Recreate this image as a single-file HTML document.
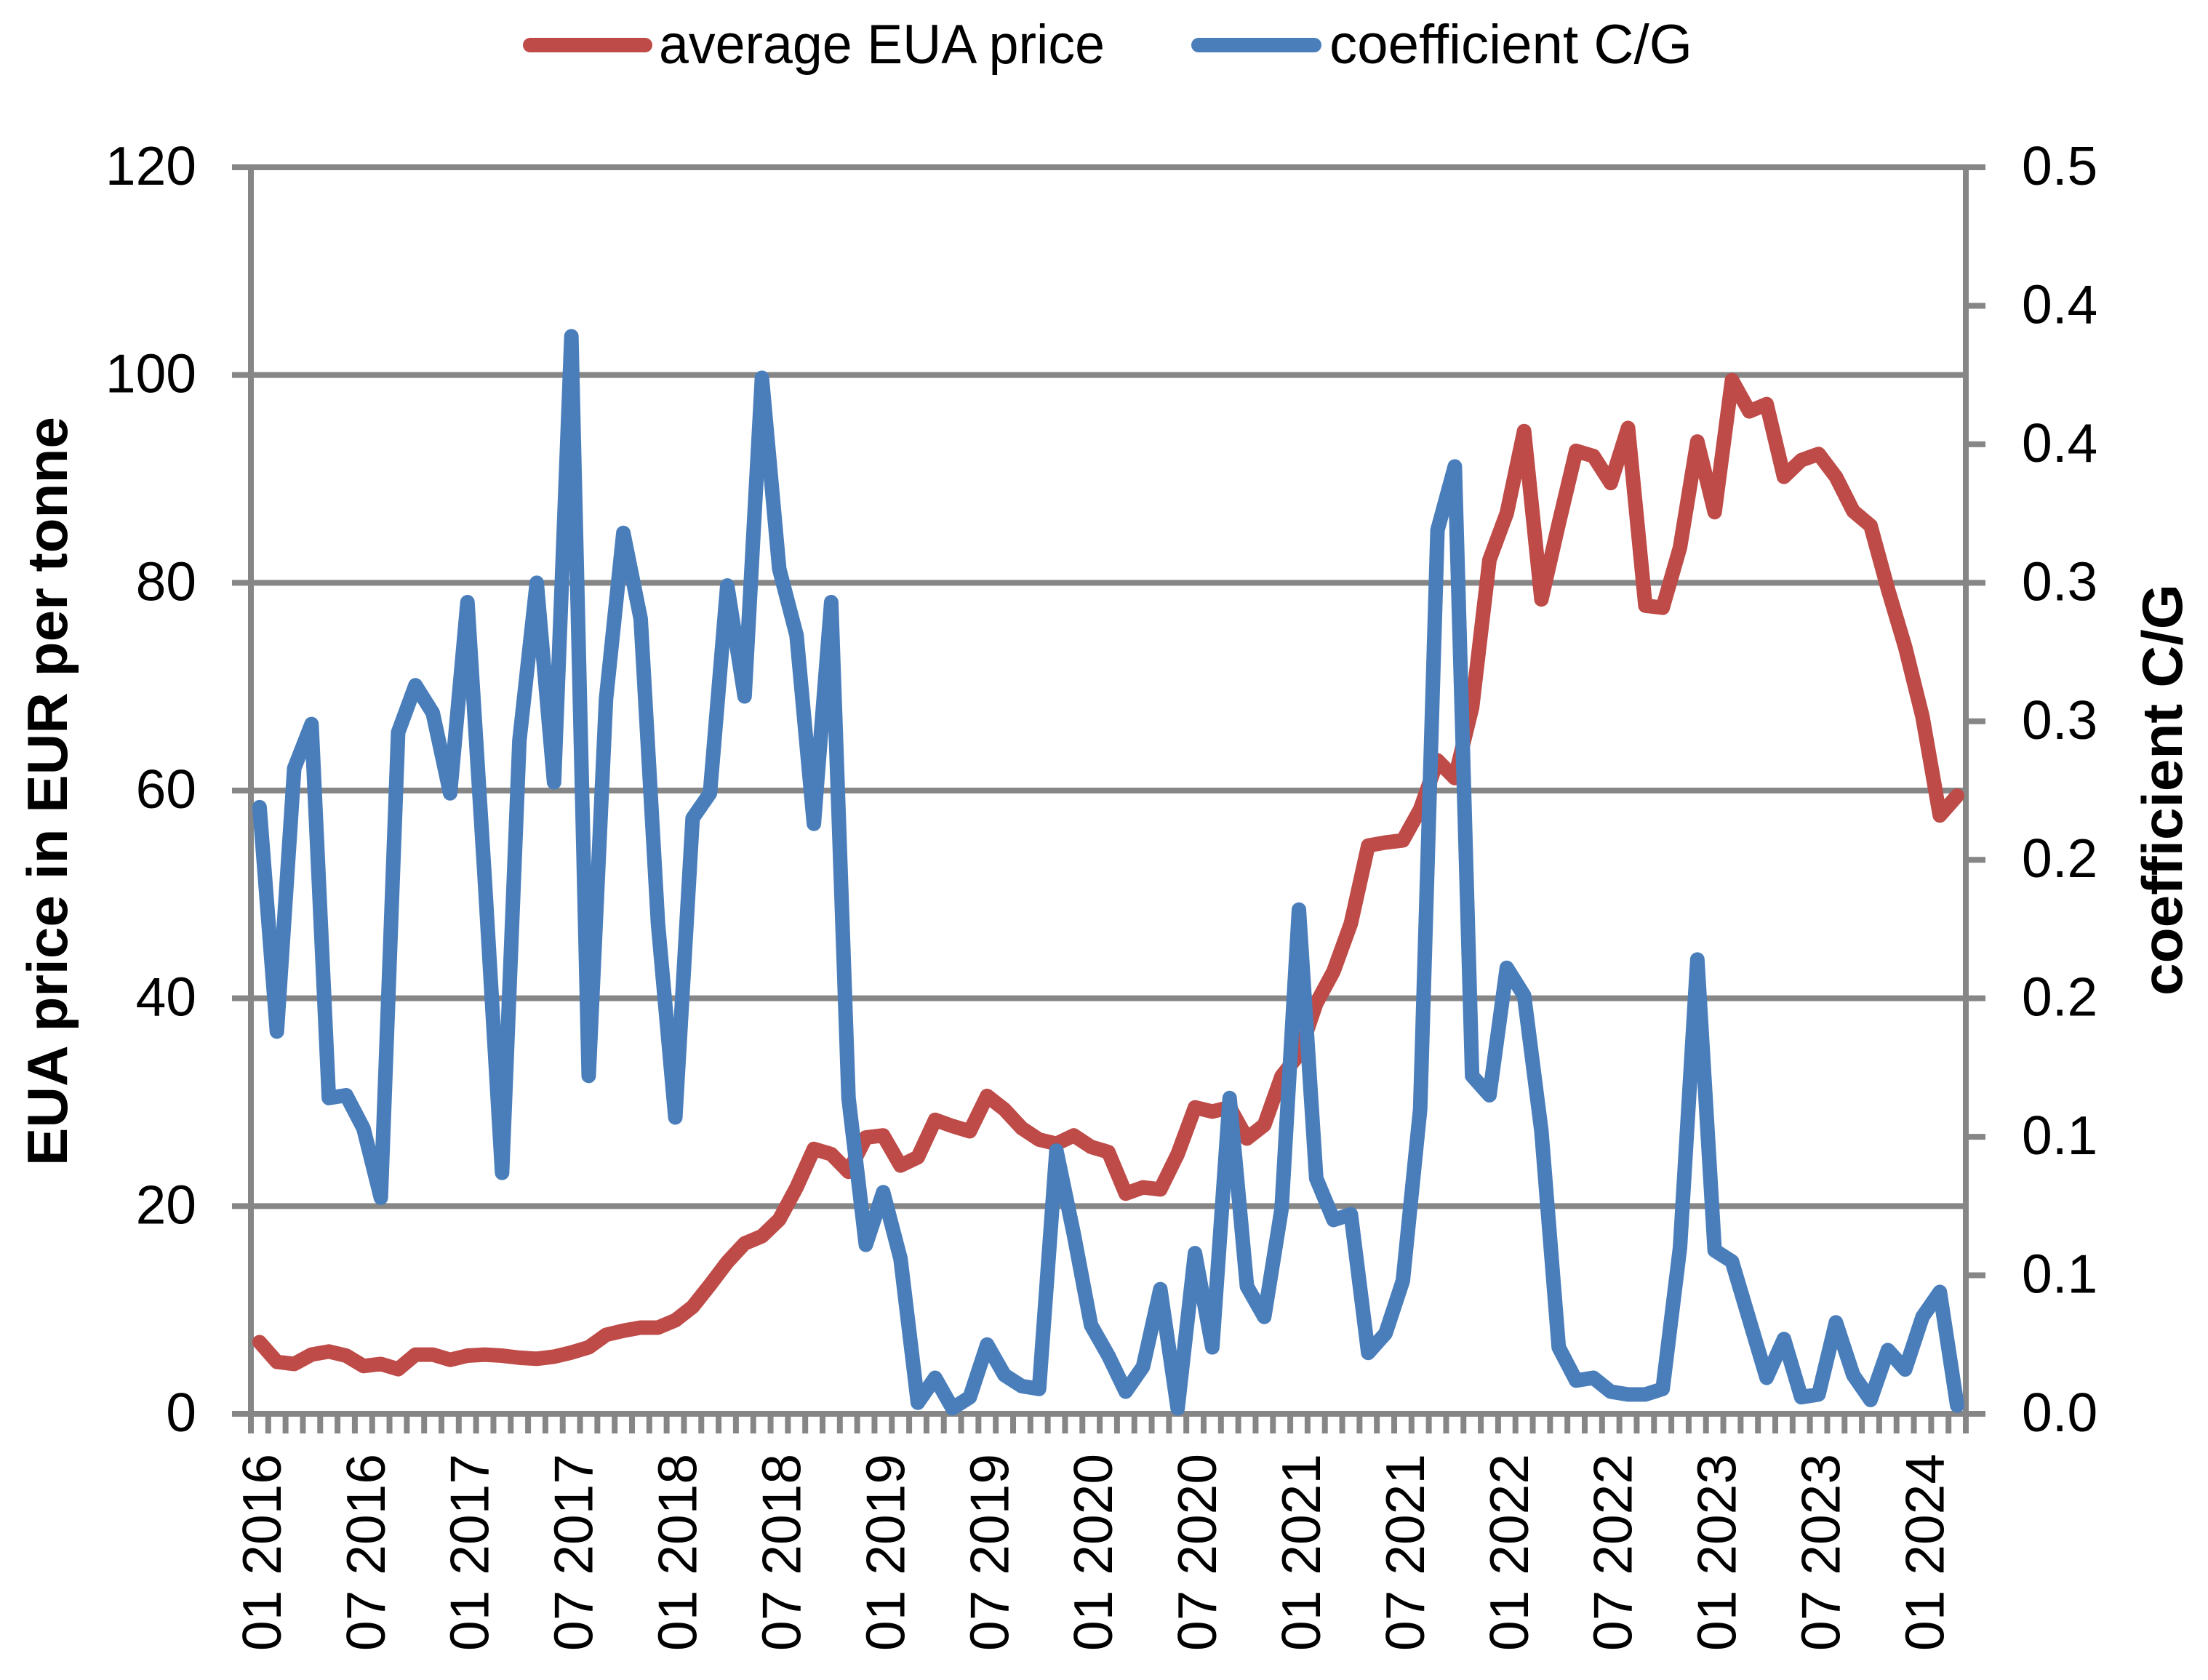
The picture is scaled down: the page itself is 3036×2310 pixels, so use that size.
<!DOCTYPE html>
<html lang="en">
<head>
<meta charset="utf-8">
<title>EUA price and coefficient C/G</title>
<style>
  html, body { margin: 0; padding: 0; background: #ffffff; }
  svg { display: block; }
  text { font-family: "Liberation Sans", sans-serif; fill: #000000; }
</style>
</head>
<body>
<svg id="chart" xmlns="http://www.w3.org/2000/svg" width="3036" height="2310" viewBox="0 0 3036 2310">
  <rect x="0" y="0" width="3036" height="2310" fill="#ffffff"/>
  <g id="grid"></g>
  <g id="axes"></g>
  <g id="labels"></g>
  <g id="series"></g>

  <g>
    <g>
      <line x1="729" y1="62" x2="887" y2="62" stroke="#BE4B48" stroke-width="20" stroke-linecap="round"/>
      <text x="906" y="87" font-size="76" textLength="613" lengthAdjust="spacingAndGlyphs">average EUA price</text>
    </g>
    <g>
      <line x1="1648" y1="62" x2="1807" y2="62" stroke="#4A7EBB" stroke-width="20" stroke-linecap="round"/>
      <text x="1828" y="87" font-size="76" textLength="499" lengthAdjust="spacingAndGlyphs">coefficient C/G</text>
    </g>
  </g>

  <text transform="translate(92 1603) rotate(-90)" font-size="78" font-weight="bold" textLength="1030" lengthAdjust="spacingAndGlyphs">EUA price in EUR per tonne</text>
  <text transform="translate(3000 1369) rotate(-90)" font-size="78" font-weight="bold" textLength="566" lengthAdjust="spacingAndGlyphs">coefficient C/G</text>
</svg>

<script>
const categories = [
  '01 2016','02 2016','03 2016','04 2016','05 2016','06 2016','07 2016','08 2016','09 2016','10 2016','11 2016','12 2016',
  '01 2017','02 2017','03 2017','04 2017','05 2017','06 2017','07 2017','08 2017','09 2017','10 2017','11 2017','12 2017',
  '01 2018','02 2018','03 2018','04 2018','05 2018','06 2018','07 2018','08 2018','09 2018','10 2018','11 2018','12 2018',
  '01 2019','02 2019','03 2019','04 2019','05 2019','06 2019','07 2019','08 2019','09 2019','10 2019','11 2019','12 2019',
  '01 2020','02 2020','03 2020','04 2020','05 2020','06 2020','07 2020','08 2020','09 2020','10 2020','11 2020','12 2020',
  '01 2021','02 2021','03 2021','04 2021','05 2021','06 2021','07 2021','08 2021','09 2021','10 2021','11 2021','12 2021',
  '01 2022','02 2022','03 2022','04 2022','05 2022','06 2022','07 2022','08 2022','09 2022','10 2022','11 2022','12 2022',
  '01 2023','02 2023','03 2023','04 2023','05 2023','06 2023','07 2023','08 2023','09 2023','10 2023','11 2023','12 2023',
  '01 2024','02 2024','03 2024'
];
const euaPrice = [
  6.9,5.0,4.8,5.7,6.0,5.6,4.6,4.8,4.3,5.7,5.7,5.2,
  5.6,5.7,5.6,5.4,5.3,5.5,5.9,6.4,7.6,8.0,8.3,8.3,
  9.0,10.3,12.4,14.6,16.4,17.1,18.7,21.8,25.5,25.0,23.3,26.6,
  26.8,23.9,24.7,28.3,27.7,27.2,30.6,29.3,27.5,26.4,26.0,26.8,
  25.7,25.2,21.2,21.8,21.6,25.0,29.5,29.1,29.5,26.5,27.8,32.5,
  34.6,39.5,42.6,47.2,54.7,55.0,55.2,58.2,62.9,61.2,68.0,82.2,
  86.7,94.6,78.4,85.7,92.7,92.2,89.6,94.9,77.8,77.6,83.4,93.6,
  86.8,99.5,96.5,97.2,90.2,91.8,92.4,90.2,86.9,85.5,79.4,73.8,
  67.1,57.6,59.5
];
const coefficientCG = [
  0.219,0.138,0.233,0.249,0.114,0.115,0.103,0.078,0.246,0.263,0.253,0.224,
  0.293,0.193,0.087,0.243,0.300,0.228,0.389,0.122,0.258,0.318,0.287,0.177,
  0.107,0.215,0.224,0.299,0.259,0.374,0.305,0.281,0.213,0.293,0.114,0.061,
  0.080,0.056,0.004,0.013,0.002,0.006,0.025,0.014,0.010,0.009,0.095,0.065,
  0.032,0.021,0.008,0.017,0.045,0.002,0.058,0.024,0.114,0.046,0.035,0.074,
  0.182,0.085,0.070,0.072,0.022,0.029,0.048,0.110,0.319,0.342,0.122,0.115,
  0.161,0.151,0.102,0.024,0.012,0.013,0.008,0.007,0.007,0.009,0.060,0.164,
  0.059,0.055,0.034,0.013,0.027,0.006,0.007,0.033,0.014,0.005,0.023,0.016,
  0.035,0.044,0.003
];
const leftTicks = [0, 20, 40, 60, 80, 100, 120];
const rightTicks = [0, 0.05, 0.1, 0.15, 0.2, 0.25, 0.3, 0.35, 0.4, 0.45];
const rightTickLabels = ['0.0', '0.1', '0.1', '0.2', '0.2', '0.3', '0.3', '0.4', '0.4', '0.5'];

const NS = 'http://www.w3.org/2000/svg';
const plotLeft = 345, plotRight = 2703, plotTop = 230, plotBottom = 1944;
const leftMax = 120, rightMax = 0.45;
const axisColor = '#868686';

function xBand(i) { return plotLeft + (plotRight - plotLeft) * i / categories.length; }
function xPoint(i) { return plotLeft + (plotRight - plotLeft) * (i + 0.5) / categories.length; }
function yLeft(v) { return plotBottom - (plotBottom - plotTop) * v / leftMax; }
function yRight(v) { return plotBottom - (plotBottom - plotTop) * v / rightMax; }

function makeLine(x1, y1, x2, y2) {
  const el = document.createElementNS(NS, 'line');
  el.setAttribute('x1', x1);
  el.setAttribute('y1', y1);
  el.setAttribute('x2', x2);
  el.setAttribute('y2', y2);
  el.setAttribute('stroke', axisColor);
  el.setAttribute('stroke-width', 8);
  return el;
}
function makeText(str, size) {
  const el = document.createElementNS(NS, 'text');
  el.textContent = str;
  el.setAttribute('font-size', size);
  return el;
}

const gridG = document.getElementById('grid');
const axesG = document.getElementById('axes');
const labelsG = document.getElementById('labels');
const seriesG = document.getElementById('series');

leftTicks.forEach(function (v) {
  const y = yLeft(v);
  const grid = makeLine(319, y, plotRight, y);
  
  
  gridG.appendChild(grid);
  const t = makeText(String(v), 75);
  t.setAttribute('x', 270);
  t.setAttribute('y', y + 24);
  t.setAttribute('text-anchor', 'end');
  
  
  labelsG.appendChild(t);
});

const leftAxis = makeLine(plotLeft, plotTop, plotLeft, plotBottom);


axesG.appendChild(leftAxis);

const rightAxis = makeLine(plotRight, plotTop, plotRight, plotBottom);


axesG.appendChild(rightAxis);

rightTicks.forEach(function (v, i) {
  const y = yRight(v);
  const tick = makeLine(plotRight, y, 2730, y);
  
  
  axesG.appendChild(tick);
  const t = makeText(rightTickLabels[i], 75);
  t.setAttribute('x', 2780);
  t.setAttribute('y', y + 24);
  
  
  labelsG.appendChild(t);
});

for (let i = 0; i <= categories.length; i++) {
  const tick = makeLine(xBand(i), plotBottom, xBand(i), 1971);
  
  
  axesG.appendChild(tick);
}

categories.forEach(function (c, i) {
  if (i % 6 !== 0) return;
  const t = makeText(c, 75);
  t.setAttribute('transform', 'translate(' + (xPoint(i) + 29) + ' 2270) rotate(-90)');
  
  
  labelsG.appendChild(t);
});

function drawSeries(values, yFn, color) {
  const pts = values.map(function (v, i) { return xPoint(i).toFixed(2) + ',' + yFn(v).toFixed(2); }).join(' ');
  const el = document.createElementNS(NS, 'polyline');
  el.setAttribute('points', pts);
  el.setAttribute('fill', 'none');
  el.setAttribute('stroke', color);
  el.setAttribute('stroke-width', 20);
  el.setAttribute('stroke-linecap', 'round');
  el.setAttribute('stroke-linejoin', 'round');
  return el;
}

const priceLine = drawSeries(euaPrice, yLeft, '#BE4B48');


seriesG.appendChild(priceLine);

const coefficientLine = drawSeries(coefficientCG, yRight, '#4A7EBB');


seriesG.appendChild(coefficientLine);
</script>
</body>
</html>
